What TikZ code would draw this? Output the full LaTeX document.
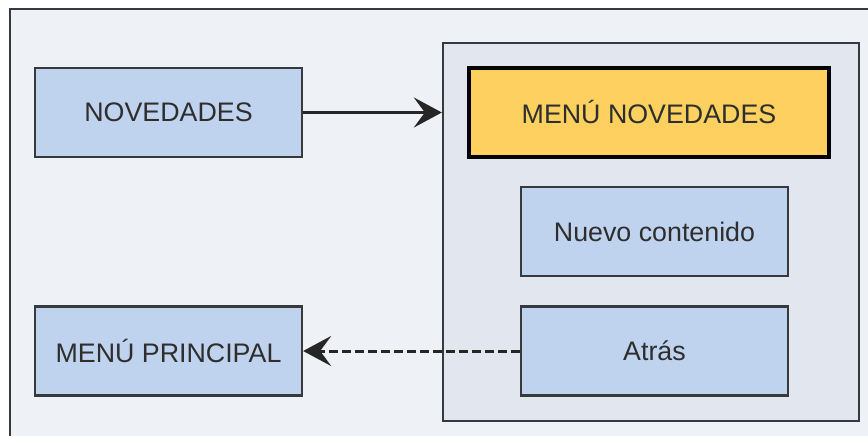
\documentclass[tikz,border=0pt]{standalone}
\usepackage{fontspec}
\setmainfont{Liberation Sans}
\usetikzlibrary{arrows.meta}
\definecolor{pagebg}{HTML}{FFFFFF}
\definecolor{framebg}{HTML}{EEF2F6}
\definecolor{contbg}{HTML}{E2E7EF}
\definecolor{boxblue}{HTML}{C0D3EE}
\definecolor{boxyellow}{HTML}{FDD05F}
\definecolor{edge}{HTML}{36393D}
\definecolor{txt}{HTML}{2E2E2E}
\tikzset{
  bluebox/.style={draw=edge, line width=2.3pt, fill=boxblue, minimum width=267pt, minimum height=89pt, inner sep=0pt, text=txt, font=\fontsize{26.8}{32}\selectfont},
  yellowbox/.style={draw=black, line width=3.8pt, fill=boxyellow, minimum width=360pt, minimum height=89pt, inner sep=0pt, text=txt, font=\fontsize{26.8}{32}\selectfont},
  container/.style={draw=edge, line width=2.3pt, fill=contbg, minimum width=416pt, minimum height=378pt, inner sep=0pt},
  link/.style={draw=black!85, line width=2.5pt, -{Stealth[length=28pt,width=30pt,inset=11pt]}},
  backlink/.style={link, line width=3pt, dash pattern=on 9pt off 4pt}
}
\begin{document}
\begin{tikzpicture}[x=1pt,y=-1pt]
\useasboundingbox (0,0) rectangle (868,436);
\clip (0,0) rectangle (868,436);
\fill[pagebg] (0,0) rectangle (868,436);
\draw[edge, line width=2.3pt, fill=framebg] (10,9) rectangle (890,460);
\node[container] (cont) at (651,232) {};
\node[bluebox] (nov) at (168.5,112.5) {NOVEDADES};
\node[yellowbox] (menunov) at (649,112.5) {MENÚ NOVEDADES};
\node[bluebox] (nuevo) at (654.5,231.5) {Nuevo contenido};
\node[bluebox] (menuprin) at (168.5,351) {MENÚ PRINCIPAL};
\node[bluebox] (atras) at (654.5,351) {Atrás};
\draw[link] (nov.east) -- (cont.west |- nov.east);
\draw[backlink] (atras.west) -- (menuprin.east);
\end{tikzpicture}
\end{document}
